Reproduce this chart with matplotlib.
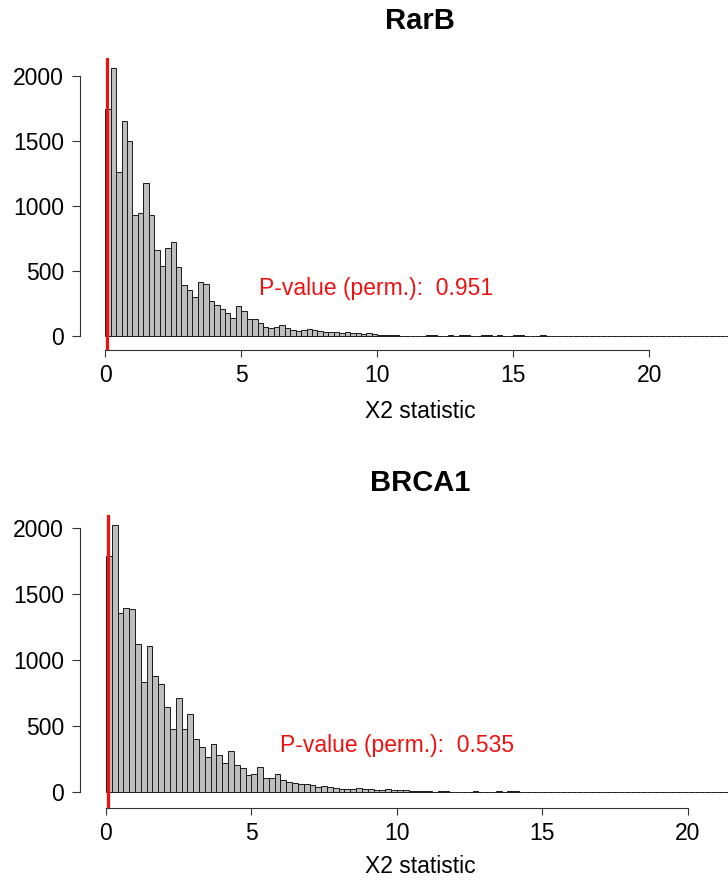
import numpy as np
import matplotlib
matplotlib.use("Agg")
import matplotlib.pyplot as plt

plt.rcParams["font.family"] = ["Liberation Sans", "DejaVu Sans"]

BIN_WIDTH = 0.2

# RarB permutation distribution of the X2 statistic
rarb_upper = 23.2
rarb_head = [1744, 2059, 1259, 1656, 1497, 931, 949, 1179, 931, 662,
             536, 679, 721, 528, 390, 354, 300, 413, 397, 267,
             236, 208, 174, 138, 228, 192, 130, 128, 97, 72,
             64, 70, 82, 64, 46, 41, 46, 51, 44, 36,
             33, 33, 28, 26, 28, 23, 20, 18, 20, 13,
             8, 5]
rarb_tail_bins = [52, 53, 54, 55, 56, 57, 58, 59, 60, 61, 63, 65, 66, 69, 70, 72, 75, 76, 80, 115]
rarb_tail_counts = [8, 7, 2, 2, 1, 1, 1, 6, 5, 1, 6, 6, 4, 6, 4, 6, 6, 4, 6, 1]
rarb_observed = 0.08
rarb_pvalue = "0.951"

# BRCA1 permutation distribution of the X2 statistic
brca1_upper = 21.6
brca1_head = [1788, 2020, 1359, 1396, 1384, 1124, 836, 1106, 881, 821,
              641, 480, 715, 480, 593, 404, 343, 268, 364, 283,
              222, 313, 207, 179, 131, 139, 192, 104, 109, 136,
              90, 75, 68, 64, 58, 52, 40, 45, 38, 32,
              24, 24, 26, 30, 25, 22, 18, 15, 20, 15,
              13, 12, 10, 8, 5]
brca1_tail_bins = [55, 56, 57, 58, 59, 60, 63, 64, 67, 69, 70, 107]
brca1_tail_counts = [6, 2, 6, 5, 1, 1, 6, 1, 6, 4, 6, 1]
brca1_observed = 0.07
brca1_pvalue = "0.535"

y_ticks = [0, 500, 1000, 1500, 2000]
x_ticks = [0, 5, 10, 15, 20]

W, H = 728, 880
fig = plt.figure(figsize=(W / 100, H / 100), dpi=100)


def counts_from(head, tail_bins, tail_counts, upper):
    n = int(round(upper / BIN_WIDTH))
    counts = np.zeros(n)
    counts[:len(head)] = head
    for b, c in zip(tail_bins, tail_counts):
        counts[b] = c
    edges = np.arange(n) * BIN_WIDTH
    return edges, counts


def panel(top_px, bottom_px, xlim, ylim, head, tail_bins, tail_counts, upper,
          observed, pvalue, ptxt_xy, title, title_y, xlabel_y):
    ax = fig.add_axes([80 / W, 1 - bottom_px / H, 680 / W, (bottom_px - top_px) / H])
    edges, counts = counts_from(head, tail_bins, tail_counts, upper)
    ax.bar(edges, counts, width=BIN_WIDTH, align="edge", color="#bebebe",
           edgecolor="#1a1a1a", linewidth=0.7, zorder=2)
    ax.axvline(observed, color="#ee1111", linewidth=2.3, zorder=3)
    ax.set_xlim(*xlim)
    ax.set_ylim(*ylim)
    for s in ("top", "right"):
        ax.spines[s].set_visible(False)
    ax.spines["left"].set_bounds(0, 2000)
    ax.spines["bottom"].set_bounds(0, 20)
    for s in ("left", "bottom"):
        ax.spines[s].set_linewidth(0.8)
        ax.spines[s].set_color("#333333")
    ax.set_yticks(y_ticks)
    ax.set_xticks(x_ticks)
    ax.tick_params(axis="y", length=5.5, width=0.8, pad=6, labelsize=16.5,
                   colors="#333333", labelcolor="black")
    ax.tick_params(axis="x", length=5, width=0.8, pad=5, labelsize=16.5,
                   colors="#333333", labelcolor="black")
    ax.text(ptxt_xy[0], ptxt_xy[1], "P-value (perm.):  " + pvalue, color="#ee1111",
            fontsize=16.5, ha="left", va="center", zorder=4)
    fig.text(420 / W, 1 - title_y / H, title, fontsize=21, fontweight="bold",
             ha="center", va="center")
    fig.text(420 / W, 1 - xlabel_y / H, "X2 statistic", fontsize=16.5,
             ha="center", va="center")
    return ax


panel(58, 350, (-0.93, 24.07), (-108, 2138), rarb_head, rarb_tail_bins,
      rarb_tail_counts, rarb_upper, rarb_observed, rarb_pvalue, (5.66, 362),
      "RarB", 21, 411)
panel(515, 808, (-0.89, 22.48), (-121, 2098), brca1_head, brca1_tail_bins,
      brca1_tail_counts, brca1_upper, brca1_observed, brca1_pvalue, (6.0, 354),
      "BRCA1", 483, 866)

fig.savefig("out.png", dpi=100)
